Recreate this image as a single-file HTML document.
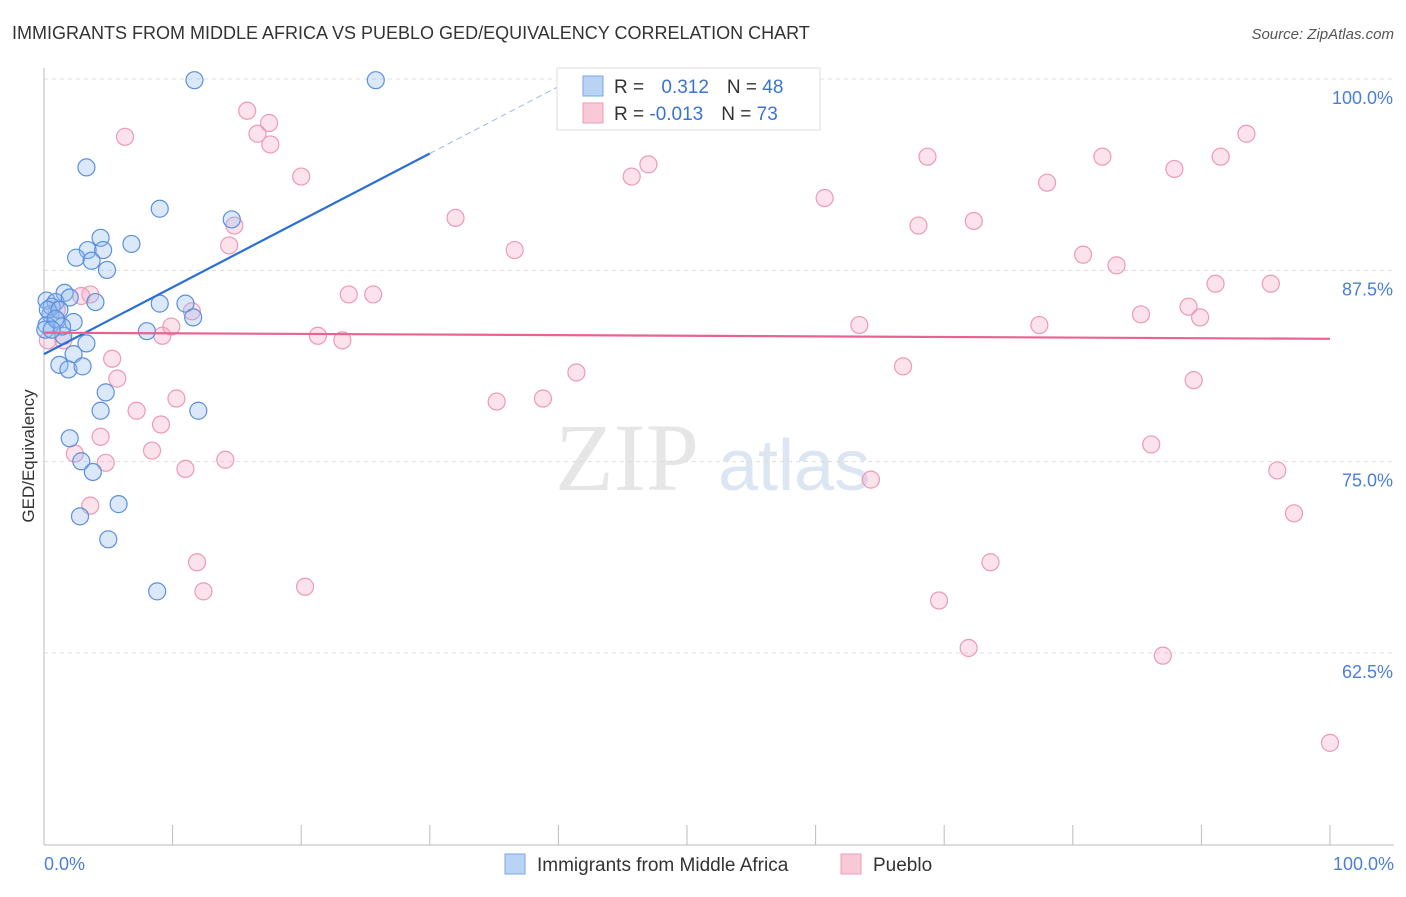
<!DOCTYPE html>
<html><head><meta charset="utf-8"><style>
body{margin:0;background:#fff;font-family:"Liberation Sans",sans-serif}
</style></head><body>
<svg id="chart" width="1406" height="892" xmlns="http://www.w3.org/2000/svg" font-family="Liberation Sans, sans-serif">
<text x="12" y="39" font-size="18" fill="#333">IMMIGRANTS FROM MIDDLE AFRICA VS PUEBLO GED/EQUIVALENCY CORRELATION CHART</text>
<text x="1394" y="39" font-size="15" fill="#555" text-anchor="end" font-style="italic">Source: ZipAtlas.com</text>
<text x="555" y="490" font-size="96" fill="#e6e6e6" font-family="Liberation Serif, serif">ZIP</text>
<text x="718" y="490" font-size="72" fill="#dce6f3">atlas</text>
<text transform="translate(34,456) rotate(-90)" font-size="17" fill="#333" text-anchor="middle">GED/Equivalency</text>
<g id="grid"></g><g id="axes"></g><g id="pts"></g><g id="trend"></g>
<g>
<rect x="557" y="68" width="263" height="62" fill="#fff" stroke="#ddd"/>
<rect x="583" y="76" width="20" height="20" fill="#b9d3f5" stroke="#7aa6e6"/>
<rect x="583" y="103" width="20" height="20" fill="#f9c9d8" stroke="#ee9bb5"/>
<text x="614" y="93" font-size="19" fill="#333">R = <tspan fill="#3b73d1" dx="12">0.312</tspan><tspan dx="18">N = </tspan><tspan fill="#3b73d1">48</tspan></text>
<text x="614" y="120" font-size="19" fill="#333">R = <tspan fill="#3b73d1">-0.013</tspan><tspan dx="18">N = </tspan><tspan fill="#3b73d1">73</tspan></text>
</g>
<g>
<rect x="505" y="854" width="20" height="20" fill="#b9d3f5" stroke="#7aa6e6"/>
<text x="537" y="871" font-size="19" fill="#333">Immigrants from Middle Africa</text>
<rect x="841" y="854" width="20" height="20" fill="#f9c9d8" stroke="#ee9bb5"/>
<text x="873" y="871" font-size="19" fill="#333">Pueblo</text>
</g>
</svg>
<script>
const yTicks=[100,87.5,75,62.5];
const yTickLabels=["100.0%","87.5%","75.0%","62.5%"];
const xTickLabels=["0.0%","100.0%"];
const blueX=[11.7,25.8,3.3,9.0,14.6,4.4,6.8,3.4,4.6,2.5,3.7,4.9,1.6,0.2,0.9,2.0,4.0,9.0,11.0,11.6,0.5,1.0,2.3,0.2,8.0,1.5,3.3,2.3,1.2,1.9,3.0,4.8,4.4,12.0,2.0,2.9,3.8,5.8,2.8,5.0,8.8,0.6,0.3,1.2,0.1,1.4,0.9,0.6];
const blueY=[101.1,101.1,95.4,92.7,92.0,90.8,90.4,90.0,90.0,89.5,89.3,88.7,87.2,86.7,86.6,86.9,86.6,86.5,86.5,85.6,85.8,85.4,85.3,85.1,84.7,84.4,83.9,83.2,82.5,82.2,82.4,80.7,79.5,79.5,77.7,76.2,75.5,73.4,72.6,71.1,67.7,86.3,86.1,86.1,84.8,85.0,85.5,84.8];
const pinkX=[6.3,15.8,16.6,17.5,17.6,20.0,14.8,14.4,32.0,36.6,45.7,47.0,60.7,68.7,68.0,72.3,78.0,82.3,87.9,91.5,93.5,80.8,83.4,91.1,95.4,89.0,89.9,85.3,77.4,63.4,66.8,89.4,86.1,95.9,97.2,64.3,73.6,69.6,71.9,87.0,100,23.7,25.6,21.3,23.2,41.4,35.2,38.8,3.6,2.9,1.0,0.3,1.5,5.3,5.7,7.2,10.3,9.1,8.4,4.4,2.4,4.8,11.0,14.1,3.6,11.9,12.4,20.3,9.9,9.2,11.5];
const pinkY=[97.4,99.1,97.6,98.3,96.9,94.8,91.6,90.3,92.1,90.0,94.8,95.6,93.4,96.1,91.6,91.9,94.4,96.1,95.3,96.1,97.6,89.7,89.0,87.8,87.8,86.3,85.6,85.8,85.1,85.1,82.4,81.5,77.3,75.6,72.8,75.0,69.6,67.1,64.0,63.5,57.8,87.1,87.1,84.4,84.1,82.0,80.1,80.3,87.1,87.0,86.1,84.1,84.1,82.9,81.6,79.5,80.3,78.6,76.9,77.8,76.7,76.1,75.7,76.3,73.3,69.6,67.7,68.0,85.0,84.4,86.0];
const blueTrend=[83.2,0.437];
const pinkTrend=[84.6,84.2];
const NS="http://www.w3.org/2000/svg";
const X=v=>44+v*12.86, Y=v=>97+(100-v)*15.305;
function mk(p,t,a){const e=document.createElementNS(NS,t);for(const k in a)e.setAttribute(k,a[k]);document.getElementById(p).appendChild(e);return e;}
yTicks.forEach((t,i)=>{
 const g=mk('grid','line',{x1:44,x2:1394,y1:Y(t)-18,y2:Y(t)-18,stroke:'#ddd','stroke-dasharray':'4,4'});
 
 
 const l=mk('grid','text',{x:1393,y:Y(t)+7,'font-size':18,fill:'#4a7fd6','text-anchor':'end'});l.textContent=yTickLabels[i];
 
 
});
const ya=mk('axes','line',{x1:44,x2:44,y1:68,y2:845,stroke:'#bbb'});


const xa=mk('axes','line',{x1:44,x2:1394,y1:845,y2:845,stroke:'#bbb'});


for(let i=0;i<=10;i++){const t=mk('axes','line',{x1:X(i*10),x2:X(i*10),y1:825,y2:845,stroke:'#bbb'});
 
 }
[[0,'start',44],[100,'end',1394]].forEach((d,i)=>{const l=mk('axes','text',{x:d[2],y:870,'font-size':18,fill:'#4a7fd6','text-anchor':d[1]});l.textContent=xTickLabels[i];
 
 });
pinkX.forEach((x,i)=>{const c=mk('pts','circle',{cx:X(x),cy:Y(pinkY[i]),r:8.5,fill:'rgba(244,160,190,0.3)',stroke:'#ec9ab6','stroke-width':1.2});
 
 });
blueX.forEach((x,i)=>{const c=mk('pts','circle',{cx:X(x),cy:Y(blueY[i]),r:8.5,fill:'rgba(150,190,240,0.35)',stroke:'#5b90dc','stroke-width':1.2});
 
 });
const bt=mk('trend','line',{x1:X(0),y1:Y(blueTrend[0]),x2:X(30),y2:Y(blueTrend[0]+30*blueTrend[1]),stroke:'#2a6fd6','stroke-width':2.2});


const bd=mk('trend','line',{x1:X(30),y1:Y(blueTrend[0]+30*blueTrend[1]),x2:X(41.5),y2:Y(blueTrend[0]+41.5*blueTrend[1]),stroke:'#9bb8e6','stroke-width':1,'stroke-dasharray':'6,4'});


const pt=mk('trend','line',{x1:X(0),y1:Y(pinkTrend[0]),x2:X(100),y2:Y(pinkTrend[1]),stroke:'#e8648e','stroke-width':2.2});


</script>
</body></html>
